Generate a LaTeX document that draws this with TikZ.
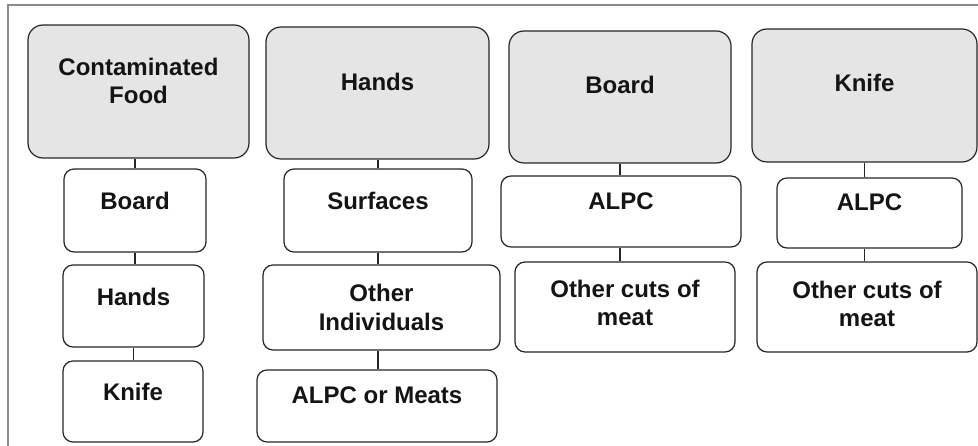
\documentclass[tikz,border=0pt]{standalone}
\usepackage{fontspec}
\setmainfont{Liberation Sans}
\begin{document}
\begin{tikzpicture}[x=1pt,y=-1pt,
  box/.style={draw=black!85, line width=1.2pt, rounded corners=10pt, fill=white, inner sep=0pt},
  head/.style={box, fill=black!10, rounded corners=15pt},
  txt/.style={font=\fontsize{24}{28.5}\selectfont\bfseries, text=black!92, align=center, inner sep=0pt},
  link/.style={draw=black!85, line width=1.2pt}]
\useasboundingbox (0,0) rectangle (978,446);
% frame
\draw[black!45, line width=1.5pt] (8,446) -- (8,5) -- (979,5);
% column 1
\node[head, minimum width=221pt, minimum height=133pt] (cf) at (138.5,91.5) {};
\node[box, minimum width=142pt, minimum height=83pt] (b1) at (135,210.5) {};
\node[box, minimum width=141pt, minimum height=82pt] (h1) at (133.5,306) {};
\node[box, minimum width=140pt, minimum height=81pt] (k1) at (133,401.5) {};
\node[txt] (tcf) at (138.5,81) {Contaminated\\Food};
\node[txt] (tb1) at (135,201) {Board};
\node[txt] (th1) at (133.5,297) {Hands};
\node[txt] (tk1) at (133,392) {Knife};
\draw[link] (b1.north) -- (b1.north |- cf.south);
\draw[link] (b1.south) -- (b1.south |- h1.north);
\draw[link] (h1.south) -- (h1.south |- k1.north);
% column 2
\node[head, minimum width=223pt, minimum height=132pt] (h2) at (377.5,93) {};
\node[box, minimum width=188pt, minimum height=83pt] (s2) at (378,210.5) {};
\node[box, minimum width=237pt, minimum height=85pt] (o2) at (381.5,307.5) {};
\node[box, minimum width=240pt, minimum height=72pt] (a2) at (377,406) {};
\node[txt] (th2) at (377.5,82) {Hands};
\node[txt] (ts2) at (378,201) {Surfaces};
\node[txt] (to2) at (381.5,307.5) {Other\\Individuals};
\node[txt] (ta2) at (377,395) {ALPC or Meats};
\draw[link] (s2.north) -- (s2.north |- h2.south);
\draw[link] (s2.south) -- (s2.south |- o2.north);
\draw[link] (a2.north -| s2.south) -- (s2.south |- o2.south);
% column 3
\node[head, minimum width=222pt, minimum height=132pt] (b3) at (620,97) {};
\node[box, minimum width=240pt, minimum height=71pt] (a3) at (621,211.5) {};
\node[box, minimum width=220pt, minimum height=90pt] (o3) at (625,307) {};
\node[txt] (tb3) at (620,85) {Board};
\node[txt] (ta3) at (621,201) {ALPC};
\node[txt] (to3) at (625,303) {Other cuts of\\meat};
\draw[link] (b3.south) -- (b3.south |- a3.north);
\draw[link] (o3.north -| b3.south) -- (b3.south |- a3.south);
% column 4
\node[head, minimum width=225pt, minimum height=133pt] (k4) at (864.5,95.5) {};
\node[box, minimum width=185pt, minimum height=70pt] (a4) at (869.5,213) {};
\node[box, minimum width=220pt, minimum height=90pt] (o4) at (867,307) {};
\node[txt] (tk4) at (864.5,83) {Knife};
\node[txt] (ta4) at (869.5,202) {ALPC};
\node[txt] (to4) at (867,304) {Other cuts of\\meat};
\draw[link] (k4.south) -- (k4.south |- a4.north);
\draw[link] (o4.north -| k4.south) -- (k4.south |- a4.south);
\end{tikzpicture}
\end{document}
